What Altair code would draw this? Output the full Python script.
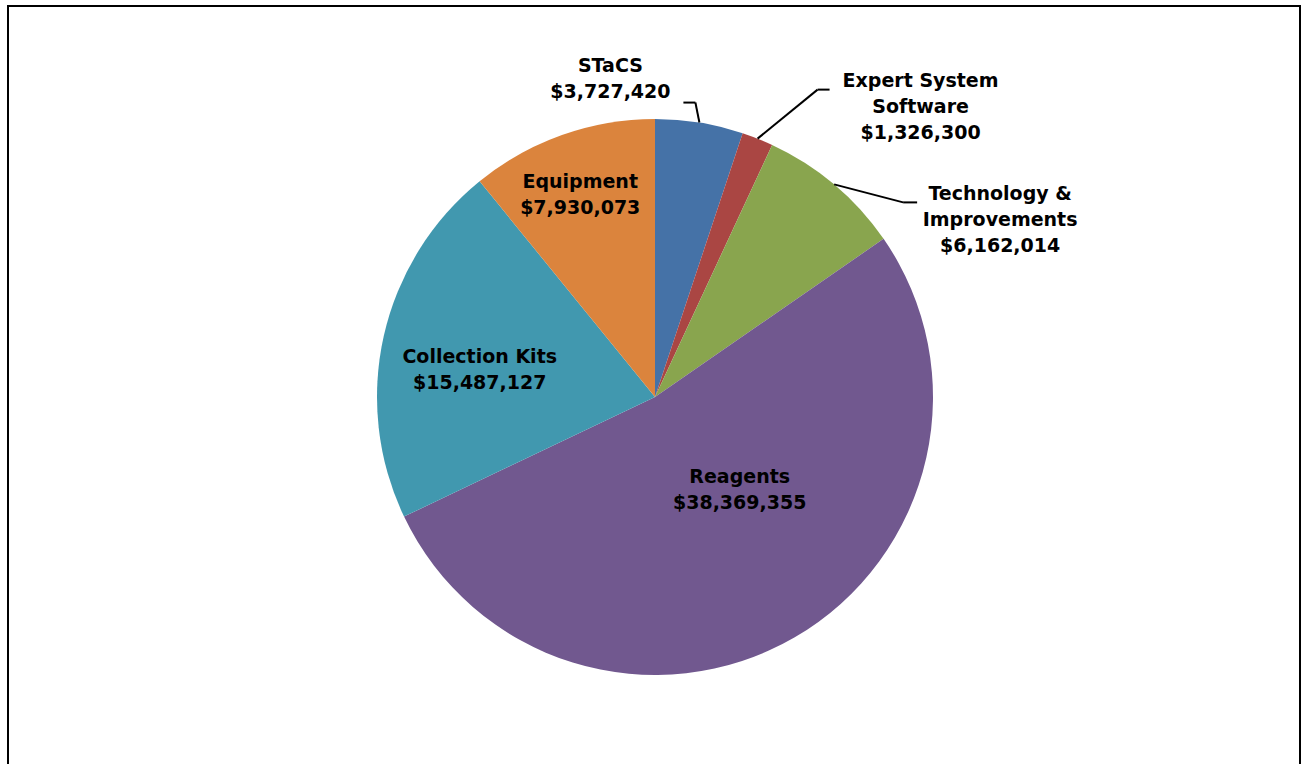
import altair as alt
import pandas as pd

categories = ["STaCS", "Expert System Software", "Technology & Improvements",
              "Reagents", "Collection Kits", "Equipment"]
label_names = ["STaCS", "Expert System\nSoftware", "Technology &\nImprovements",
               "Reagents", "Collection Kits", "Equipment"]
amounts = [3727420, 1326300, 6162014, 38369355, 15487127, 7930073]
colors = ["#4572A7", "#AA4643", "#89A54E", "#71588F", "#4198AF", "#DB843D"]

df = pd.DataFrame({
    "category": categories,
    "name": label_names,
    "amount": amounts,
    "order": list(range(len(categories))),
})

W, H = 1302, 764
CX, CY, R = 655, 397, 278
FONT = "DejaVu Sans"
FS = 19
LH = 26

# label placement style: (radius fraction, dx, dy) -> block centre
label_place = {
    "STaCS": (1.0, -89, -44),
    "Expert System Software": (1.0, 163, -32),
    "Technology & Improvements": (1.0, 166, 36),
    "Reagents": (0.5, 15, -27),
    "Collection Kits": (0.65, 1, 13),
    "Equipment": (0.75, -5, -6),
}
# leader line style: elbow offset and end offset from slice edge
leaders = {
    "STaCS": ((-4, -20), (-16, -20)),
    "Expert System Software": ((60, -49), (72, -49)),
    "Technology & Improvements": ((69, 18), (83, 18)),
}

base = (
    alt.Chart(df)
    .transform_window(cum="sum(amount)", sort=[alt.SortField("order")], frame=[None, 0])
    .transform_joinaggregate(total="sum(amount)")
    .transform_calculate(
        mid="2*PI*(datum.cum - datum.amount/2)/datum.total",
        label="split(datum.name + '\\n' + format(datum.amount, '$,'), '\\n')",
    )
    .transform_calculate(
        ex=f"{CX} + {R}*sin(datum.mid)",
        ey=f"{CY} - {R}*cos(datum.mid)",
    )
)

pie = alt.Chart(df).mark_arc(outerRadius=R).encode(
    theta=alt.Theta("amount:Q", stack=True),
    color=alt.Color("category:N", scale=alt.Scale(domain=categories, range=colors), legend=None),
    order=alt.Order("order:Q"),
    x=alt.value(CX),
    y=alt.value(CY),
)

layers = [pie]

for cat, name in zip(categories, label_names):
    rf, dx, dy = label_place[cat]
    nlines = name.count("\n") + 2
    shift = -(nlines - 1) * LH / 2
    lay = (
        base.transform_filter(alt.datum.category == cat)
        .transform_calculate(
            lx=f"{CX} + {rf*R}*sin(datum.mid) + {dx}",
            ly=f"{CY} - {rf*R}*cos(datum.mid) + {dy + shift}",
        )
        .mark_text(font=FONT, fontSize=FS, fontWeight="bold", color="#000000",
                   align="center", baseline="middle", lineHeight=LH)
        .encode(
            x=alt.X("lx:Q", scale=None),
            y=alt.Y("ly:Q", scale=None),
            text=alt.Text("label:N"),
        )
    )
    layers.append(lay)

for cat, ((e1x, e1y), (e2x, e2y)) in leaders.items():
    seg = (
        base.transform_filter(alt.datum.category == cat)
        .transform_calculate(
            bx=f"datum.ex + {e1x}", by=f"datum.ey + {e1y}",
            cx2=f"datum.ex + {e2x}", cy2=f"datum.ey + {e2y}",
        )
    )
    layers.append(seg.mark_rule(color="#000000", strokeWidth=2).encode(
        x=alt.X("ex:Q", scale=None), y=alt.Y("ey:Q", scale=None),
        x2="bx:Q", y2="by:Q"))
    layers.append(seg.mark_rule(color="#000000", strokeWidth=2).encode(
        x=alt.X("bx:Q", scale=None), y=alt.Y("by:Q", scale=None),
        x2="cx2:Q", y2="cy2:Q"))

frame = alt.Chart(df).mark_rect(fill=None, stroke="#000000", strokeWidth=2).encode(
    x=alt.value(8), x2=alt.value(1300), y=alt.value(6), y2=alt.value(H + 20))
layers.append(frame)

chart = alt.layer(*layers).properties(
    width=W, height=H,
    autosize=alt.AutoSizeParams(type="fit", contains="padding"),
    padding=0,
    background="#FFFFFF",
).configure_view(stroke=None)

chart.save("out.html", embed_options={"renderer": "svg", "actions": False})
